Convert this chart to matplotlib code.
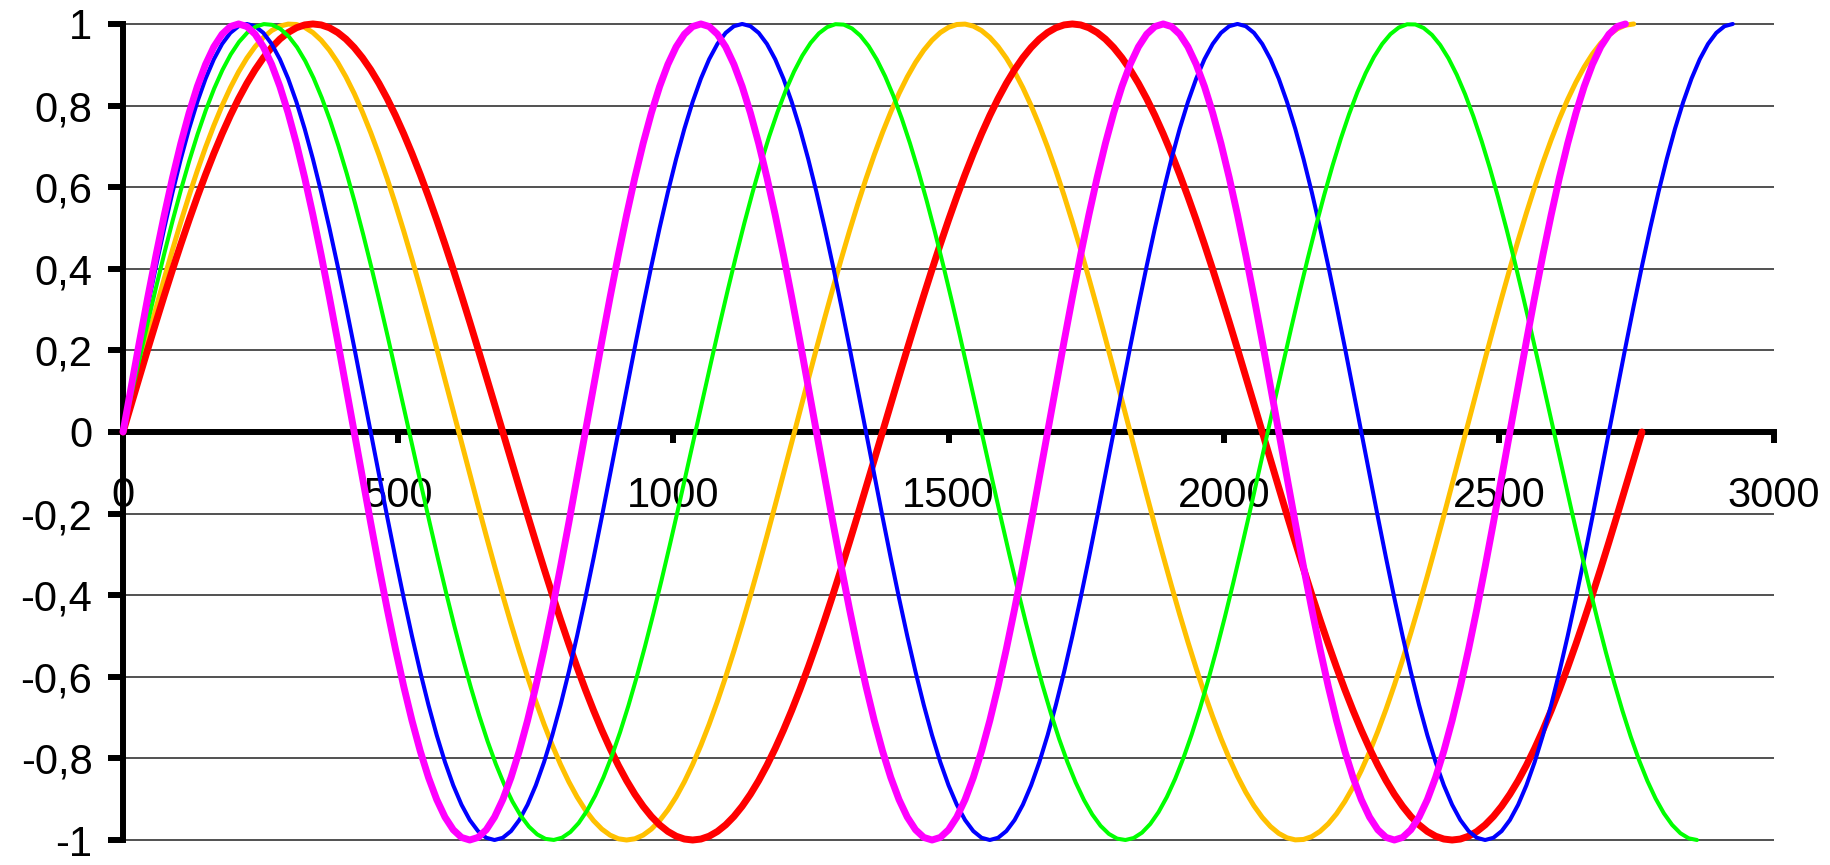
import numpy as np
import matplotlib
matplotlib.use("Agg")
import matplotlib.pyplot as plt

# series: period and last x of each wave
colors = ["#FFC000", "#FF0000", "#0000FF", "#00FF00", "#FF00FF"]
periods = [1220, 1380, 900, 1040, 840]
x_ends = [2745, 2760, 2925, 2860, 2730]
widths = [3.6, 5.0, 2.9, 2.9, 5.0]

x_ticks = [0, 500, 1000, 1500, 2000, 2500, 3000]
x_labels = ["0", "500", "1000", "1500", "2000", "2500", "3000"]
y_ticks = [-1, -0.8, -0.6, -0.4, -0.2, 0, 0.2, 0.4, 0.6, 0.8, 1]
y_labels = ["-1", "-0,8", "-0,6", "-0,4", "-0,2", "0", "0,2", "0,4", "0,6", "0,8", "1"]

plt.rcParams["font.family"] = ["Liberation Sans", "DejaVu Sans"]

fig = plt.figure(figsize=(18.31, 8.65), dpi=100)
ax = fig.add_axes([0.0672, 0.0289, 0.9017, 0.9434])

# grid lines (not at 0, the axis sits there)
grid_levels = [v for v in y_ticks if v != 0]
ax.hlines(grid_levels, 0, 3000, colors="#333333", linewidth=1.2, clip_on=False, zorder=1)

for c, p, xe, w in zip(colors, periods, x_ends, widths):
    x = np.linspace(0, xe, int(xe / 15) + 1)
    y = np.sin(2 * np.pi * x / p)
    ax.plot(x, y, color=c, linewidth=w, clip_on=False, zorder=4, solid_capstyle="round")

ax.set_xlim(0, 3000)
ax.set_ylim(-1, 1)

for s in ["top", "right"]:
    ax.spines[s].set_visible(False)
ax.spines["bottom"].set_position(("data", 0))
ax.spines["bottom"].set_linewidth(4.3)
ax.spines["left"].set_linewidth(4.3)
ax.spines["bottom"].set_zorder(3)
ax.spines["left"].set_zorder(3)

ax.set_xticks(x_ticks)
ax.set_xticklabels(x_labels)
ax.set_yticks(y_ticks)
ax.set_yticklabels(y_labels)
ax.tick_params(axis="x", direction="out", length=8, width=4.3, labelsize=30, pad=24)
ax.tick_params(axis="y", direction="out", length=11, width=4.3, labelsize=30, pad=11)

fig.savefig("out.png", dpi=100)
